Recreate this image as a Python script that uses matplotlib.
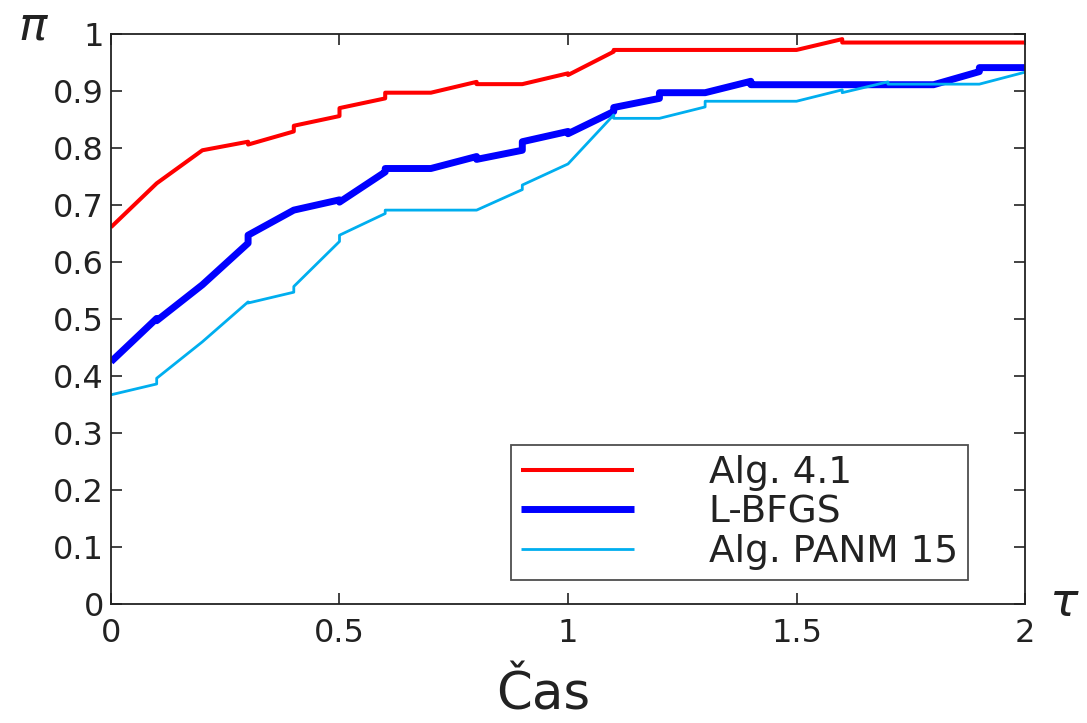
import numpy as np
import matplotlib as mpl
mpl.use('Agg')
import matplotlib.pyplot as plt

# segment edges (tau) and per-segment start/end values
tau = np.round(np.arange(0.0, 2.01, 0.1), 2)

alg41_start = [0.661, 0.738, 0.796, 0.806, 0.839, 0.870, 0.897, 0.897, 0.912, 0.912,
               0.928, 0.972, 0.972, 0.972, 0.972, 0.972, 0.985, 0.985, 0.985, 0.985]
alg41_end = [0.738, 0.796, 0.811, 0.829, 0.856, 0.887, 0.897, 0.916, 0.912, 0.931,
             0.969, 0.972, 0.972, 0.972, 0.972, 0.991, 0.985, 0.985, 0.985, 0.985]

lbfgs_start = [0.425, 0.497, 0.560, 0.647, 0.691, 0.705, 0.764, 0.764, 0.780, 0.811,
               0.825, 0.871, 0.897, 0.897, 0.911, 0.911, 0.911, 0.911, 0.911, 0.941]
lbfgs_end = [0.501, 0.560, 0.633, 0.691, 0.709, 0.758, 0.764, 0.785, 0.796, 0.829,
             0.864, 0.887, 0.897, 0.917, 0.911, 0.911, 0.911, 0.911, 0.934, 0.941]

panm_start = [0.367, 0.396, 0.460, 0.528, 0.557, 0.647, 0.691, 0.691, 0.691, 0.735,
              0.772, 0.852, 0.852, 0.882, 0.882, 0.882, 0.897, 0.912, 0.912, 0.912]
panm_end = [0.386, 0.460, 0.530, 0.547, 0.636, 0.685, 0.691, 0.691, 0.727, 0.772,
            0.858, 0.852, 0.872, 0.882, 0.882, 0.902, 0.916, 0.912, 0.912, 0.933]

labels = ['Alg. 4.1', 'L-BFGS', 'Alg. PANM 15']
colors = ['#ff0000', '#0000ff', '#00aeef']
widths = [2.9, 5.0, 2.0]


def segments(starts, ends):
    xs, ys = [], []
    for i in range(len(starts)):
        xs += [tau[i], tau[i + 1]]
        ys += [starts[i], ends[i]]
    return xs, ys


fig = plt.figure(figsize=(10.87, 7.23), dpi=100)
ax = fig.add_axes([0.1021, 0.1646, 0.8409, 0.7884])

for (st, en), lab, col, lw in zip([(alg41_start, alg41_end), (lbfgs_start, lbfgs_end),
                                   (panm_start, panm_end)], labels, colors, widths):
    xs, ys = segments(st, en)
    ax.plot(xs, ys, color=col, lw=lw, label=lab, solid_capstyle='butt')

ax.set_xlim(0, 2)
ax.set_ylim(0, 1)
ax.set_xticks([0, 0.5, 1, 1.5, 2])
ax.set_xticklabels(['0', '0.5', '1', '1.5', '2'])
ax.set_yticks(np.round(np.arange(0, 1.01, 0.1), 1))
ax.set_yticklabels(['0'] + ['%.1f' % v for v in np.arange(0.1, 0.95, 0.1)] + ['1'])
ax.tick_params(direction='in', top=True, right=True, length=8, width=1.2,
               labelsize=23, colors='#222222')
ax.tick_params(axis='x', pad=10)
ax.tick_params(axis='y', pad=5)
for sp in ax.spines.values():
    sp.set_linewidth(1.3)
    sp.set_color('#222222')

leg = ax.legend(loc='lower right', bbox_to_anchor=(0.9376, 0.042), fontsize=27,
                frameon=True, fancybox=False, handlelength=3.0, handletextpad=2.0,
                labelspacing=0.09, borderpad=0.27, borderaxespad=0)
leg.get_frame().set_edgecolor('#222222')
leg.get_frame().set_linewidth(1.3)
for t in leg.get_texts():
    t.set_color('#222222')

fig.text(34 / 1087, 1 - 27 / 723, r'$\pi$', fontsize=34, ha='center', va='center',
         color='#222222')
fig.text(1064 / 1087, 1 - 603 / 723, r'$\tau$', fontsize=34, ha='center', va='center',
         color='#222222')
fig.text(543 / 1087, 13 / 723, 'Čas', fontsize=37, ha='center', va='baseline',
         color='#222222')

plt.savefig('out.png', dpi=100)
